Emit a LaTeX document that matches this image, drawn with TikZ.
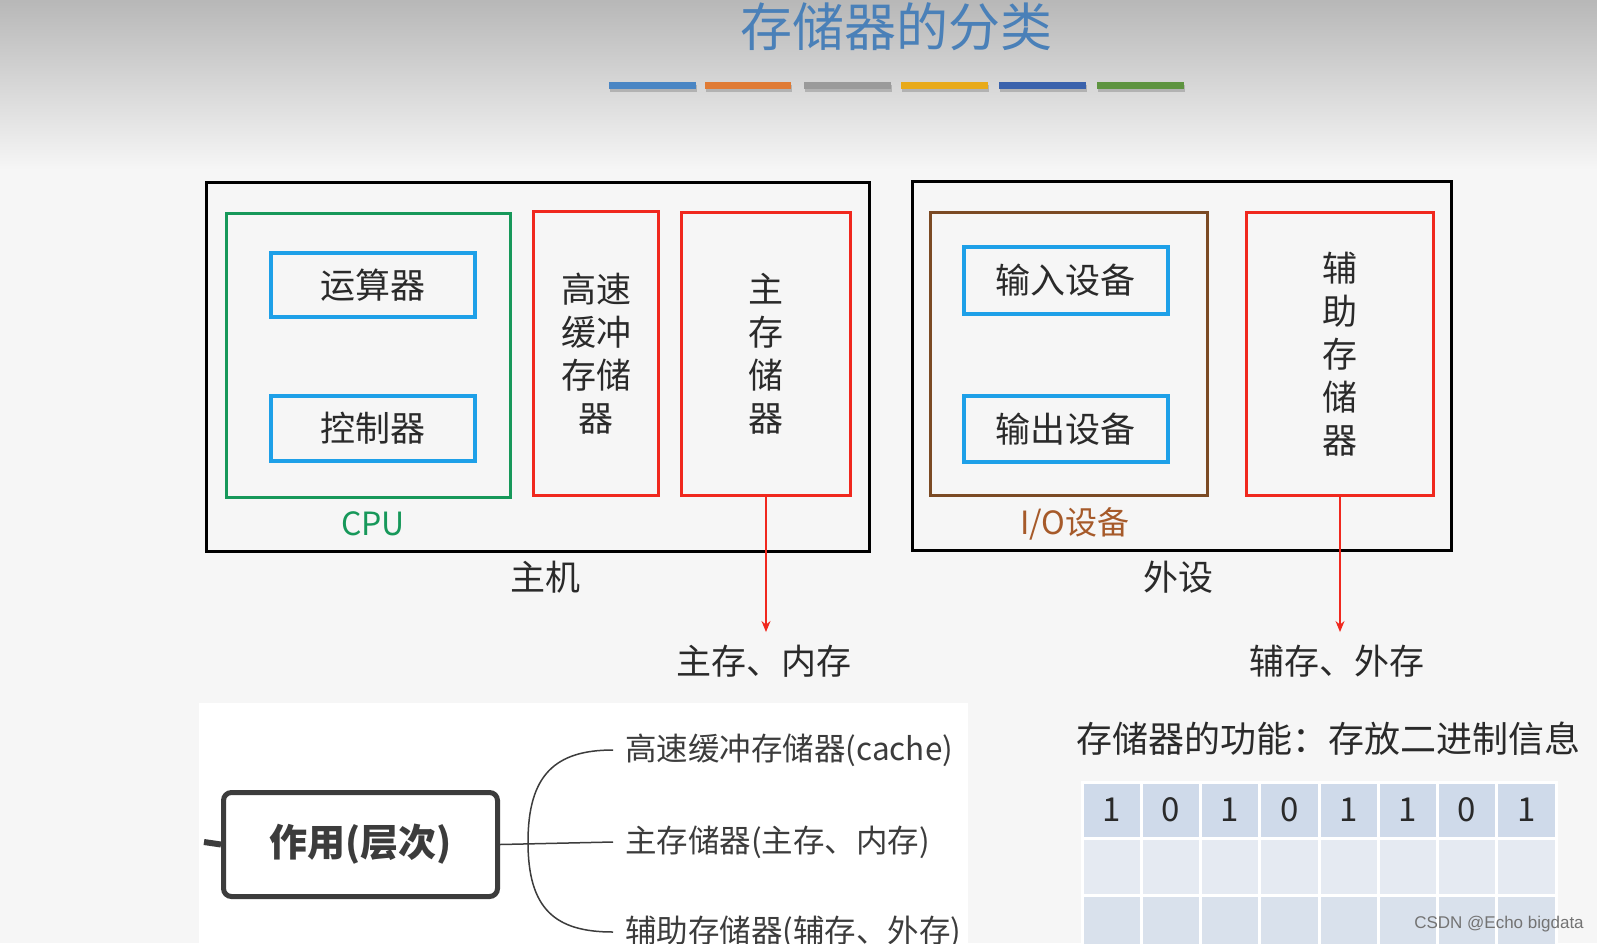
\documentclass[tikz,border=0pt]{standalone}
\usepackage{fontspec}
\setmainfont{Noto Sans CJK SC}
\newfontfamily\wmfont{Liberation Sans}
\usetikzlibrary{arrows.meta}
\definecolor{titleblue}{HTML}{4A80B8}
\definecolor{cpugreen}{HTML}{17985A}
\definecolor{boxblue}{HTML}{1EA0E8}
\definecolor{memred}{HTML}{F0281E}
\definecolor{iobrown}{HTML}{7B4A24}
\definecolor{iolabel}{HTML}{A65A2A}
\definecolor{txt}{HTML}{2A2A2A}
\definecolor{mapgray}{HTML}{3C3C3C}
\definecolor{barA}{HTML}{4A86C4}
\definecolor{barB}{HTML}{E07B35}
\definecolor{barC}{HTML}{9A9A9A}
\definecolor{barD}{HTML}{E8AA1A}
\definecolor{barE}{HTML}{3A62AC}
\definecolor{barF}{HTML}{5E9440}
\definecolor{hdrcell}{HTML}{CFDAEA}
\definecolor{rowtwo}{HTML}{E5EAF2}
\definecolor{rowthree}{HTML}{D9E1EC}
\tikzset{
  frame/.style={draw=black, line width=3pt, anchor=north west, inner sep=0pt},
  cpubox/.style={draw=cpugreen, line width=3pt, anchor=north west, inner sep=0pt},
  unitbox/.style={draw=boxblue, line width=3.5pt, anchor=north west, inner sep=0pt,
     font=\fontsize{35}{40}\selectfont, text=txt},
  membox/.style={draw=memred, line width=3pt, anchor=north west, inner sep=0pt,
     align=center, font=\fontsize{35}{43}\selectfont, text=txt},
  iobox/.style={draw=iobrown, line width=3pt, anchor=north west, inner sep=0pt},
  lbl/.style={font=\fontsize{35}{40}\selectfont, text=txt},
  redarrow/.style={draw=memred, line width=1.2pt, -{Stealth[length=11pt,width=9pt]}},
  mapbox/.style={draw=mapgray, line width=5pt, rounded corners=8pt, anchor=north west,
     inner sep=0pt, fill=white, font=\bfseries\fontsize{38}{44}\selectfont, text=mapgray},
  mapitem/.style={anchor=west, inner xsep=12pt, inner ysep=0pt,
     font=\fontsize{31.5}{36}\selectfont, text=mapgray},
  mapline/.style={draw=mapgray, line width=1.5pt},
  bar/.style={line width=7pt},
  cell/.style={draw=white, line width=3pt}
}
\begin{document}
\begin{tikzpicture}[x=1pt,y=-1pt]
\useasboundingbox (0,0) rectangle (1597,943);
% background
\fill[white!96.5!black] (0,0) rectangle (1597,943);
\shade[top color=white!72!black, bottom color=white!96.5!black] (0,0) rectangle (1597,170);
\fill[white] (199,703) rectangle (968,943);
% title
\node (title) at (896,27) {\fontsize{52}{58}\selectfont\color{titleblue}存储器的分类};
% bars
\foreach \a/\b/\c in {609/696/barA,705/791/barB,804/891/barC,901/988/barD,999/1086/barE,1097/1184/barF}{
  \draw[bar, white!70!black] (\a+1,88) -- (\b+1,88);
  \draw[bar, \c] (\a,85) -- (\b,85);
}
% host
\node[frame, minimum width=663pt, minimum height=369pt] (host) at (205,181) {};
\node[cpubox, minimum width=284pt, minimum height=284pt] (cpu) at (225,212) {};
\node[unitbox, minimum width=204pt, minimum height=64pt] (alu) at (269,251) {运算器};
\node[unitbox, minimum width=204pt, minimum height=65pt] (cu) at (269,394) {控制器};
\node[font=\fontsize{32}{38}\selectfont, text=cpugreen] (cpulbl) at (373,524) {CPU};
\node[membox, minimum width=125pt, minimum height=284pt] (cache) at (532,210) {高速\\缓冲\\存储\\器};
\node[membox, minimum width=169pt, minimum height=283pt] (mainmem) at (680,211) {主\\存\\储\\器};
\node[lbl] (hostlbl) at (545,577) {主机};
\coordinate (mainend) at (mainmem.south |- 0,632);
\draw[redarrow] (mainmem.south) -- (mainend);
\node[lbl] (mainlbl) at (764,661) {主存、内存};
% peripherals
\node[frame, minimum width=539pt, minimum height=369pt] (peri) at (911,180) {};
\node[iobox, minimum width=277pt, minimum height=283pt] (io) at (929,211) {};
\node[unitbox, minimum width=204pt, minimum height=67pt] (inp) at (962,245) {输入设备};
\node[unitbox, minimum width=204pt, minimum height=66pt] (outp) at (962,394) {输出设备};
\node[font=\fontsize{32}{38}\selectfont, text=iolabel] (iolbl) at (1075,524) {I/O设备};
\node[membox, minimum width=187pt, minimum height=283pt] (aux) at (1245,211) {辅\\助\\存\\储\\器};
\node[lbl] (perilbl) at (1178,577) {外设};
\coordinate (auxend) at (aux.south |- 0,632);
\draw[redarrow] (aux.south) -- (auxend);
\node[lbl] (auxlbl) at (1337,661) {辅存、外存};
% mind map
\coordinate (stub) at (204,842);
\node[mapbox, minimum width=274pt, minimum height=104pt] (role) at (221,790) {作用(层次)};
\draw[line width=6pt, mapgray] (stub) -- (role.west);
\node[mapitem] (m1) at (613,750) {高速缓冲存储器(cache)};
\node[mapitem] (m2) at (613,842) {主存储器(主存、内存)};
\node[mapitem] (m3) at (613,932) {辅助存储器(辅存、外存)};
\coordinate (fork) at (528,842);
\draw[mapline] (role.east) -- (m2.west);
\draw[mapline] (fork) .. controls (528,775) and (555,750) .. (m1.west);
\draw[mapline] (fork) .. controls (528,909) and (555,932) .. (m3.west);
% function text and table
\node[lbl, anchor=west, font=\fontsize{36}{40}\selectfont] (func) at (1073,739) {存储器的功能：存放二进制信息};
\foreach \i in {0,...,7}{
  \pgfmathsetmacro{\xa}{1082+59.25*\i}
  \pgfmathsetmacro{\xb}{1082+59.25*(\i+1)}
  \filldraw[cell, fill=hdrcell] (\xa,782) rectangle (\xb,838);
  \filldraw[cell, fill=rowtwo] (\xa,838) rectangle (\xb,895);
  \filldraw[cell, fill=rowthree] (\xa,895) rectangle (\xb,952);
}
\foreach \d [count=\i from 0] in {1,0,1,0,1,1,0,1}{
  \node[font=\fontsize{33}{38}\selectfont, text=txt] (bit\i) at (1082+59.25*\i+29.6,810) {\d};
}
\node[font=\wmfont\fontsize{17}{20}\selectfont, text=white!45!black] (wm) at (1499,924) {CSDN @Echo bigdata};
\end{tikzpicture}
\end{document}
